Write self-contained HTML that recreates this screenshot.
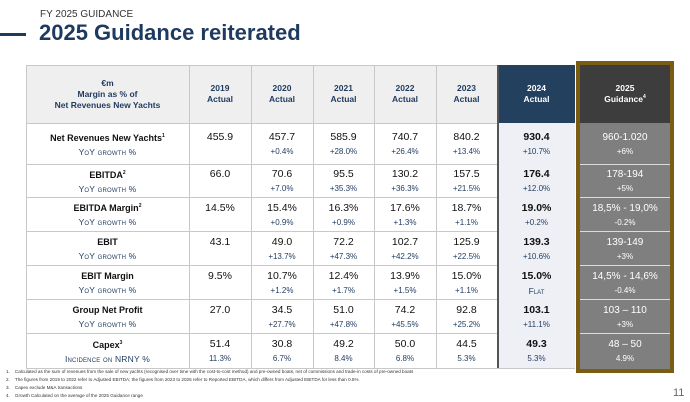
<!DOCTYPE html>
<html><head><meta charset="utf-8"><style>
*{margin:0;padding:0;box-sizing:border-box}
body{width:690px;height:402px;background:#fff;position:relative;overflow:hidden;font-family:"Liberation Sans",sans-serif;color:#111}
.a{position:absolute}
.c{position:absolute;text-align:center;display:flex;flex-direction:column;align-items:center;justify-content:center;white-space:nowrap}
.hd{justify-content:center;font-weight:bold;font-size:8.5px;color:#1f3a5f;line-height:11px}
.v{font-size:10.5px;line-height:13px;margin-top:2px}
.g{font-size:8px;color:#1f3a5f;line-height:12px;min-height:12px;margin-top:2px}
.lbl{font-weight:bold;font-size:9px;line-height:13px}
.sub{font-size:7px;color:#1f3a5f;line-height:12px;letter-spacing:.2px;margin-top:1px}
sup{font-size:5px;line-height:0;vertical-align:4px}
.vl{position:absolute;width:1px;background:#c8c8c8}
.hl{position:absolute;height:1px;background:#c8c8c8}
.fn{position:absolute;left:6px;font-size:4.6px;color:#333;white-space:nowrap}
</style></head><body>
<div class="a" style="left:40px;top:9px;font-size:10px;color:#333">FY 2025 GUIDANCE</div>
<div class="a" style="left:0;top:33px;width:26px;height:3px;background:#1f3a5f"></div>
<div class="a" style="left:39px;top:20px;font-size:22px;font-weight:bold;color:#1f3a5f">2025 Guidance reiterated</div>

<div class="a" style="left:26px;top:65px;width:472px;height:58px;background:#efefef"></div>
<div class="a" style="left:498px;top:65px;width:77px;height:58px;background:#24405f"></div>
<div class="a" style="left:498px;top:123px;width:77px;height:245px;background:#eef0f5"></div>
<div class="a" style="left:576px;top:61px;width:98px;height:312px;border:4px solid #7a5d12;background:#7f7f7f"></div>
<div class="a" style="left:580px;top:65px;width:90px;height:58px;background:#3d3d3d"></div>

<div class="hl" style="left:26px;top:65px;width:472px"></div>
<div class="hl" style="left:26px;top:123px;width:472px"></div>
<div class="hl" style="left:26px;top:164px;width:472px"></div>
<div class="hl" style="left:26px;top:197px;width:472px"></div>
<div class="hl" style="left:26px;top:231px;width:472px"></div>
<div class="hl" style="left:26px;top:265px;width:472px"></div>
<div class="hl" style="left:26px;top:299px;width:472px"></div>
<div class="hl" style="left:26px;top:333px;width:472px"></div>
<div class="hl" style="left:26px;top:368px;width:549px"></div>
<div class="vl" style="left:26px;top:65px;height:303px"></div>
<div class="vl" style="left:189px;top:65px;height:303px"></div>
<div class="vl" style="left:251px;top:65px;height:303px"></div>
<div class="vl" style="left:313px;top:65px;height:303px"></div>
<div class="vl" style="left:374px;top:65px;height:303px"></div>
<div class="vl" style="left:436px;top:65px;height:303px"></div>
<div class="a" style="left:497px;top:65px;width:2px;height:303px;background:#555"></div>
<div class="a" style="left:580px;top:164px;width:90px;height:1px;background:#ddd"></div>
<div class="a" style="left:580px;top:197px;width:90px;height:1px;background:#ddd"></div>
<div class="a" style="left:580px;top:231px;width:90px;height:1px;background:#ddd"></div>
<div class="a" style="left:580px;top:265px;width:90px;height:1px;background:#ddd"></div>
<div class="a" style="left:580px;top:299px;width:90px;height:1px;background:#ddd"></div>
<div class="a" style="left:580px;top:333px;width:90px;height:1px;background:#ddd"></div>

<div class="c hd" style="left:26px;top:65px;width:163px;height:58px">€m<br>Margin as % of<br>Net Revenues New Yachts</div>
<div class="c hd" style="left:189px;top:65px;width:62px;height:58px">2019<br>Actual</div>
<div class="c hd" style="left:251px;top:65px;width:62px;height:58px">2020<br>Actual</div>
<div class="c hd" style="left:313px;top:65px;width:61px;height:58px">2021<br>Actual</div>
<div class="c hd" style="left:374px;top:65px;width:62px;height:58px">2022<br>Actual</div>
<div class="c hd" style="left:436px;top:65px;width:61px;height:58px">2023<br>Actual</div>
<div class="c hd" style="left:498px;top:65px;width:77px;height:58px;color:#fff">2024<br>Actual</div>
<div class="c hd" style="left:580px;top:65px;width:90px;height:58px;color:#fff">2025<br><span>Guidance<sup>4</sup></span></div>

<div id="rows"></div>
<script>
var R=[
[123,164,'Net Revenues New Yachts<sup>1</sup>','YoY growth %',['455.9',''],['457.7','+0.4%'],['585.9','+28.0%'],['740.7','+26.4%'],['840.2','+13.4%'],['930.4','+10.7%'],['960-1.020','+6%']],
[164,197,'EBITDA<sup>2</sup>','YoY growth %',['66.0',''],['70.6','+7.0%'],['95.5','+35.3%'],['130.2','+36.3%'],['157.5','+21.5%'],['176.4','+12.0%'],['178-194','+5%']],
[197,231,'EBITDA Margin<sup>2</sup>','YoY growth %',['14.5%',''],['15.4%','+0.9%'],['16.3%','+0.9%'],['17.6%','+1.3%'],['18.7%','+1.1%'],['19.0%','+0.2%'],['18,5% - 19,0%','-0.2%']],
[231,265,'EBIT','YoY growth %',['43.1',''],['49.0','+13.7%'],['72.2','+47.3%'],['102.7','+42.2%'],['125.9','+22.5%'],['139.3','+10.6%'],['139-149','+3%']],
[265,299,'EBIT Margin','YoY growth %',['9.5%',''],['10.7%','+1.2%'],['12.4%','+1.7%'],['13.9%','+1.5%'],['15.0%','+1.1%'],['15.0%','Flat'],['14,5% - 14,6%','-0.4%']],
[299,333,'Group Net Profit','YoY growth %',['27.0',''],['34.5','+27.7%'],['51.0','+47.8%'],['74.2','+45.5%'],['92.8','+25.2%'],['103.1','+11.1%'],['103 – 110','+3%']],
[333,368,'Capex<sup>3</sup>','Incidence on NRNY %',['51.4','11.3%'],['30.8','6.7%'],['49.2','8.4%'],['50.0','6.8%'],['44.5','5.3%'],['49.3','5.3%'],['48 – 50','4.9%']]];
var X=[[189,62],[251,62],[313,61],[374,62],[436,61],[498,77],[580,90]];
var h='';
R.forEach(function(r){
 var t=r[0],H=r[1]-r[0];
 h+='<div class="c" style="left:26px;top:'+t+'px;width:163px;height:'+H+'px"><div class="lbl" style="margin-top:2px">'+r[2]+'</div><div class="sub" style="font-variant:small-caps;font-size:8.5px">'+r[3]+'</div></div>';
 for(var i=0;i<7;i++){var d=r[4+i],x=X[i];
  var st=i==5?'font-weight:bold;':'';var gc=i==6?'color:#fff;':'';
  var vs=i==6?'font-size:10px;':'';
  h+='<div class="c" style="left:'+x[0]+'px;top:'+t+'px;width:'+x[1]+'px;height:'+H+'px"><div class="v" style="'+st+gc+vs+'">'+d[0]+'</div><div class="g" style="'+gc+(d[1]=='Flat'?'font-variant:small-caps;font-size:8.5px':'')+'">'+d[1]+'</div></div>';
 }
});
document.getElementById('rows').innerHTML=h;
</script>

<div class="fn" style="top:369px">1.&nbsp;&nbsp;&nbsp;&nbsp;Calculated as the sum of revenues from the sale of new yachts (recognised over time with the cost-to-cost method) and pre-owned boats, net of commissions and trade-in costs of pre-owned boats</div>
<div class="fn" style="top:377px">2.&nbsp;&nbsp;&nbsp;&nbsp;The figures from 2019 to 2022 refer to Adjusted EBITDA; the figures from 2023 to 2025 refer to Reported EBITDA, which differs from Adjusted EBITDA for less than 0.5%</div>
<div class="fn" style="top:385px">3.&nbsp;&nbsp;&nbsp;&nbsp;Capex exclude M&amp;A transactions</div>
<div class="fn" style="top:393px">4.&nbsp;&nbsp;&nbsp;&nbsp;Growth Calculated on the average of the 2025 Guidance range</div>
<div class="a" style="left:673px;top:387px;font-size:11px;color:#666">11</div>
</body></html>
